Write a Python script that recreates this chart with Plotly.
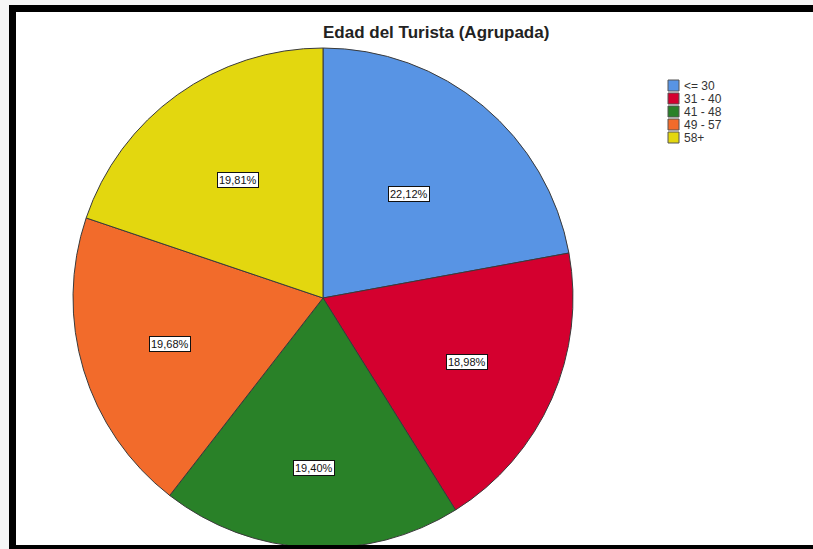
import math
import plotly.graph_objects as go

# Age groups of tourists and their share (%)
categories = ["<= 30", "31 - 40", "41 - 48", "49 - 57", "58+"]
shares = [22.12, 18.98, 19.40, 19.68, 19.81]
slice_colors = ["#5894E4", "#D4002F", "#298128", "#F26B2B", "#E3D70F"]

# Radial placement of each percentage box, as a fraction of the pie radius
label_radius = [0.54, 0.63, 0.68, 0.64, 0.58]

W, H = 813, 549
CX, CY, R = 323, 298, 250  # pie centre and radius in pixels

fig = go.Figure()
fig.add_trace(go.Pie(
    labels=categories,
    values=shares,
    sort=False,
    direction="clockwise",
    rotation=0,
    marker=dict(colors=slice_colors, line=dict(color="#3a3a3a", width=1)),
    textinfo="none",
    hoverinfo="label+percent",
    showlegend=False,
    domain=dict(x=[(CX - R) / W, (CX + R) / W], y=[(H - CY - R) / H, (H - CY + R) / H]),
))

annotations = []
shapes = []

# Percentage boxes at the middle angle of each slice
total = sum(shares)
cum = 0.0
for v, rf in zip(shares, label_radius):
    mid = (cum + v / 2) / total * 2 * math.pi
    cum += v
    px = CX + rf * R * math.sin(mid)
    py = CY - rf * R * math.cos(mid)
    annotations.append(dict(
        x=px / W, y=1 - py / H, xref="paper", yref="paper",
        xanchor="center", yanchor="middle",
        text=f"{v:.2f}".replace(".", ",") + "%",
        showarrow=False,
        font=dict(family="Liberation Sans, Arial", size=11, color="#111111"),
        bgcolor="white", bordercolor="#111111", borderwidth=1, borderpad=1,
    ))

# Title
annotations.append(dict(
    x=436 / W, y=1 - 33 / H, xref="paper", yref="paper",
    xanchor="center", yanchor="middle",
    text="<b>Edad del Turista (Agrupada)</b>", showarrow=False,
    font=dict(family="Liberation Sans, Arial", size=17, color="#222222"),
))

# Legend: coloured squares with their category names
LX, LY, STEP, BOX = 668, 80, 13, 11
for i, (cat, col) in enumerate(zip(categories, slice_colors)):
    y0 = LY + i * STEP
    shapes.append(dict(
        type="rect", xref="paper", yref="paper",
        x0=LX / W, x1=(LX + BOX) / W, y0=1 - (y0 + BOX) / H, y1=1 - y0 / H,
        fillcolor=col, line=dict(color="#555555", width=1),
    ))
    annotations.append(dict(
        x=(LX + BOX + 3) / W, y=1 - (y0 + BOX / 2 + 0.5) / H, xref="paper", yref="paper",
        xanchor="left", yanchor="middle", text=cat, showarrow=False,
        font=dict(family="Liberation Sans, Arial", size=12, color="#333333"),
    ))

# Frame around the chart
def prect(x0, y0, x1, y1, color):
    return dict(type="rect", xref="paper", yref="paper", layer="above",
                x0=x0 / W, x1=x1 / W, y0=1 - y1 / H, y1=1 - y0 / H,
                fillcolor=color, line=dict(width=0))

shapes += [
    prect(0, 0, 9, H, "#f6f6f6"),
    prect(0, 0, W, 5, "#f6f6f6"),
    prect(9, 5, 16, H, "#000000"),
    prect(9, 5, W, 12, "#000000"),
    prect(9, 545, W, H, "#000000"),
]

fig.update_layout(
    width=W, height=H,
    margin=dict(l=0, r=0, t=0, b=0),
    paper_bgcolor="white", plot_bgcolor="white",
    annotations=annotations, shapes=shapes,
    showlegend=False,
)

fig.write_html("out.html")
